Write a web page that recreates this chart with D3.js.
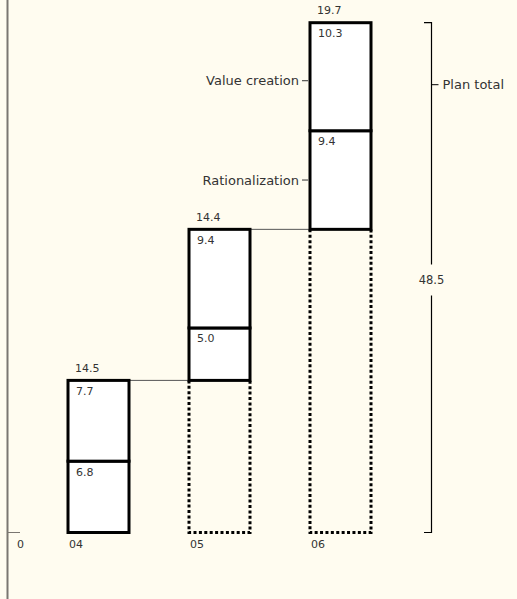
<!DOCTYPE html>
<html>
<head>
<meta charset="utf-8">
<script src="https://cdn.jsdelivr.net/npm/d3@7"></script>
<style>
  html, body { margin: 0; padding: 0; background: #fffcf0; }
  svg { display: block; }
  text { font-family: "DejaVu Sans", sans-serif; fill: #333; }
</style>
</head>
<body>
<svg id="chart" width="517" height="599"></svg>
<script>
// Savings by year, stacked: rationalization at the bottom, value creation on top
const years = ["04", "05", "06"];
const rationalization = [6.8, 5.0, 9.4];
const valueCreation = [7.7, 9.4, 10.3];
const yearTotals = [14.5, 14.4, 19.7];
const planTotal = 48.5;
const segmentNames = ["Rationalization", "Value creation"];
const bracketLabel = "Plan total";

const svg = d3.select("#chart");

// cumulative start of each year (waterfall)
const starts = [];
let running = 0;
years.forEach((y, i) => { starts.push(running); running += rationalization[i] + valueCreation[i]; });
const cumulative = running;

const x = d3.scaleBand().domain(years).range([68, 371]).paddingInner(60 / 121).paddingOuter(0);
const y = d3.scaleLinear().domain([0, cumulative]).range([532.5, 22.7]);

// left axis line with zero tick
svg.append("line").attr("x1", 7.5).attr("x2", 7.5).attr("y1", 0).attr("y2", 599)
  .attr("stroke", "#7a7671").attr("stroke-width", 2);
svg.append("line").attr("x1", 7.5).attr("x2", 20).attr("y1", y(0)).attr("y2", y(0))
  .attr("stroke", "#7a7671").attr("stroke-width", 1);
svg.append("text").attr("x", 17).attr("y", y(0) + 15.5).attr("font-size", 11).text("0");

// category labels
svg.selectAll("text.cat").data(years).join("text").attr("class", "cat")
  .attr("x", d => x(d) + 1).attr("y", y(0) + 15.5).attr("font-size", 11).text(d => d);

// dotted placeholders below each raised bar
years.forEach((yr, i) => {
  if (starts[i] <= 0) return;
  svg.append("path")
    .attr("d", `M${x(yr)},${y(starts[i])} V${y(0)} H${x(yr) + x.bandwidth()} V${y(starts[i])}`)
    .attr("fill", "none").attr("stroke", "#000").attr("stroke-width", 3)
    .attr("stroke-dasharray", "3,2.4");
});

// connectors between consecutive bar tops
years.forEach((yr, i) => {
  if (i === years.length - 1) return;
  const top = starts[i] + yearTotals[i];
  svg.append("line")
    .attr("x1", x(yr) + x.bandwidth()).attr("x2", x(years[i + 1]))
    .attr("y1", y(top)).attr("y2", y(top))
    .attr("stroke", "#555").attr("stroke-width", 1);
});

// stacked segments
years.forEach((yr, i) => {
  const segs = [
    { lo: starts[i], v: rationalization[i] },
    { lo: starts[i] + rationalization[i], v: valueCreation[i] }
  ];
  segs.forEach(s => {
    svg.append("rect")
      .attr("x", x(yr)).attr("y", y(s.lo + s.v))
      .attr("width", x.bandwidth()).attr("height", y(s.lo) - y(s.lo + s.v))
      .attr("fill", "#fff").attr("stroke", "#000").attr("stroke-width", 3);
    svg.append("text").attr("x", x(yr) + 8).attr("y", y(s.lo + s.v) + 14.5)
      .attr("font-size", 11).text(s.v.toFixed(1));
  });
  svg.append("text").attr("x", x(yr) + 7).attr("y", y(starts[i] + yearTotals[i]) - 8.5)
    .attr("font-size", 11).text(yearTotals[i].toFixed(1));
});

// segment name callouts on the last bar
const last = years.length - 1;
const lastX = x(years[last]);
const calloutY = [
  y(starts[last] + rationalization[last] / 2),
  y(starts[last] + rationalization[last] + valueCreation[last] / 2) + 4
];
segmentNames.forEach((name, k) => {
  svg.append("line").attr("x1", lastX - 8).attr("x2", lastX - 2)
    .attr("y1", calloutY[k]).attr("y2", calloutY[k]).attr("stroke", "#333").attr("stroke-width", 1);
  svg.append("text").attr("x", lastX - 11).attr("y", calloutY[k]).attr("dy", "0.35em")
    .attr("text-anchor", "end").attr("font-size", 13).text(name);
});

// plan total bracket
const bx = 431.5;
const bTop = y(cumulative), bBot = y(0);
const bMid = (bTop + bBot) / 2;
svg.append("path")
  .attr("d", `M424,${bTop} H${bx} V${bMid - 13} M${bx},${bMid + 18} V${bBot} H424`)
  .attr("fill", "none").attr("stroke", "#000").attr("stroke-width", 1.2);
svg.append("text").attr("x", bx).attr("y", bMid + 2).attr("dy", "0.35em")
  .attr("text-anchor", "middle").attr("font-size", 11.5).text(planTotal.toFixed(1));
const ptY = bTop + 62;
svg.append("line").attr("x1", bx).attr("x2", bx + 7).attr("y1", ptY).attr("y2", ptY)
  .attr("stroke", "#000").attr("stroke-width", 1);
svg.append("text").attr("x", bx + 11).attr("y", ptY).attr("dy", "0.35em")
  .attr("font-size", 13).text(bracketLabel);
</script>
</body>
</html>
